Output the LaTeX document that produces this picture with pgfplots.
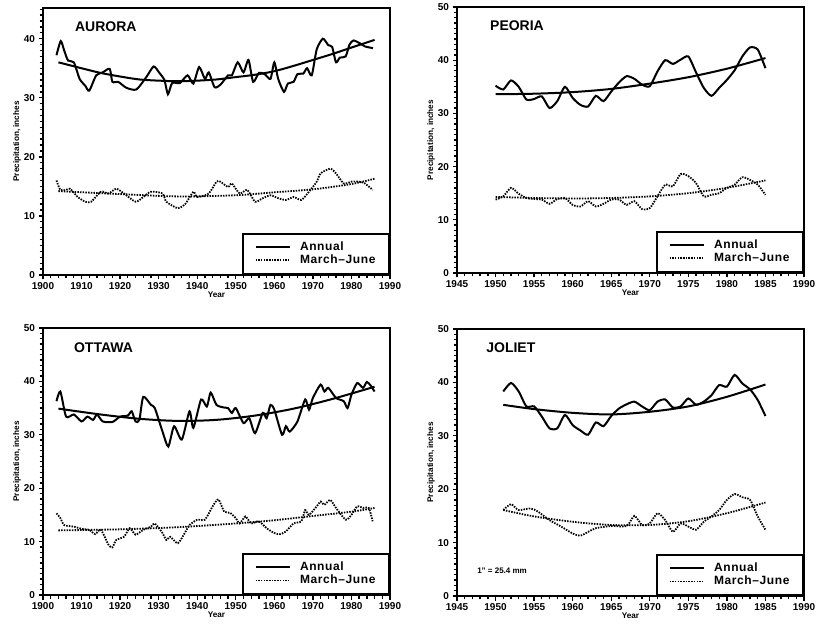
\documentclass[border=0pt]{standalone}
\usepackage{pgfplots}
\pgfplotsset{compat=1.18}
\usepackage{fontspec}
\setmainfont{Liberation Sans}
\tikzset{ttl/.style={anchor=west, inner sep=0pt, font=\fontsize{14}{14}\selectfont\bfseries}}
\pgfplotsset{
 panel/.style={scale only axis, width=347pt, height=267pt, anchor=south west,
  axis line style={line width=2pt},
  tick style={black, line width=1.3pt},
  major tick length=4.5pt, minor tick length=3.5pt,
  tick align=outside, xtick pos=left, ytick pos=left,
  ymin=0, ymax=50, ytick={0,10,...,50}, minor y tick num=9,
  /pgf/number format/assume math mode=true, /pgf/number format/1000 sep={},
  ticklabel style={font=\fontsize{10}{10}\selectfont\bfseries},
  xticklabel style={yshift=1pt},
  xlabel={Year}, ylabel={Precipitation, inches},
  label style={font=\fontsize{8.2}{9}\selectfont\bfseries},
  xlabel style={at={(axis description cs:0.5,-0.075)}, anchor=center},
  ylabel style={at={(axis description cs:-0.075,0.5)}, anchor=center},
  legend style={at={(1,0)}, anchor=south east, draw=black, line width=2pt, fill=white,
    inner xsep=12pt, inner ysep=7pt, column sep=8pt,
    font=\fontsize{12}{13}\selectfont\bfseries\addfontfeatures{LetterSpace=5},
    nodes={inner sep=1.5pt}},
  legend cell align=left,
  legend image code/.code={\draw[##1] (0pt,0pt) -- (34pt,0pt);},
 },
 annual/.style={black, line width=2pt, smooth, tension=0.4},
 mj/.style={black, line width=1.8pt, dash pattern=on 1.5pt off 1.2pt, smooth, tension=0.4},
 trendA/.style={black, line width=2pt, smooth},
 trendM/.style={black, line width=1.8pt, dash pattern=on 1.5pt off 1.2pt, smooth},
}
\begin{document}
\begin{tikzpicture}
\useasboundingbox (0,0) rectangle (816pt,626pt);
% ---------------- AURORA ----------------
\begin{axis}[panel, at={(43pt,351pt)}, xmin=1900, xmax=1990, xtick={1900,1910,...,1990}, minor x tick num=4, ymax=45.2]
\addplot[annual] coordinates {(1903.5,37.2)(1904.6,39.6)(1905.5,38.0)(1906.5,36.3)(1908,36.0)(1909.5,33.2)(1911,32.0)(1912,31.2)(1913.8,33.8)(1915.5,34.3)(1917.3,34.9)(1918,32.7)(1919.5,32.7)(1921.6,31.7)(1924.2,31.4)(1926.8,33.5)(1928.7,35.3)(1930.2,34.2)(1931.5,33.0)(1932.4,30.6)(1933.5,32.5)(1935.5,32.5)(1937.5,33.8)(1939,32.4)(1940.5,35.2)(1942,33.2)(1943,34.3)(1944.5,31.8)(1946,32.2)(1948,33.8)(1949,33.8)(1950.5,36.0)(1952,34.3)(1953.3,36.4)(1954.5,32.7)(1956,34.2)(1957.5,34.0)(1959,33.2)(1960,36.0)(1961,33.2)(1962.5,31.0)(1963.5,32.4)(1965,32.7)(1966,34.0)(1967.5,34.1)(1968.5,35.0)(1969.7,33.8)(1971,38.2)(1972.6,40.0)(1974,38.9)(1975,38.6)(1976,36.0)(1977,36.8)(1978.5,37.0)(1979.5,39.0)(1980.5,39.7)(1982,39.3)(1983.5,38.7)(1985.6,38.4)};
\addlegendentry{Annual}
\addplot[mj] coordinates {(1903.5,16.0)(1904.5,14.4)(1906,14.4)(1907,14.6)(1909,13.2)(1911,12.4)(1912.5,12.4)(1915,14.1)(1917,13.8)(1919,14.6)(1921,13.8)(1924,12.4)(1926,13.2)(1928,14.1)(1931,13.8)(1932,12.4)(1935,11.3)(1937,12.1)(1939,14.1)(1940,13.2)(1943,13.8)(1945,15.8)(1946,15.8)(1948,14.9)(1949,15.5)(1951,13.8)(1953,14.4)(1955,12.4)(1957,13.0)(1959,13.5)(1961,13.0)(1963,12.7)(1965,13.2)(1967,12.7)(1969,14.1)(1971,15.8)(1972,17.2)(1974.5,18.0)(1976,17.2)(1978,15.5)(1980,15.8)(1982,15.8)(1983.5,15.5)(1985.5,14.4)};
\addlegendentry{March--June}
\addplot[trendA, forget plot] coordinates {(1904,36.0)(1910,35.0)(1915,34.2)(1920,33.6)(1925,33.1)(1930,32.9)(1935,32.8)(1940,32.9)(1945,33.1)(1950,33.5)(1955,33.9)(1960,34.5)(1965,35.4)(1970,36.4)(1975,37.4)(1980,38.5)(1986,39.8)};
\addplot[trendM, forget plot] coordinates {(1904,14.2)(1920,13.7)(1935,13.3)(1950,13.5)(1960,14.0)(1970,14.5)(1980,15.4)(1986,16.3)};
\node[ttl] at (rel axis cs:0.092,0.929) {AURORA};
\end{axis}
% ---------------- PEORIA ----------------
\begin{axis}[panel, at={(457pt,353pt)}, height=266pt, xmin=1945, xmax=1990, xtick={1945,1950,...,1990}, minor x tick num=4]
\addplot[annual] coordinates {(1950,35.2)(1951,34.5)(1952,36.2)(1953,35.0)(1954,32.6)(1955,32.7)(1956,33.2)(1957,31.0)(1958,32.3)(1959,35.0)(1960,32.9)(1961,31.6)(1962,31.3)(1963,33.3)(1964,32.3)(1965,34.1)(1966,35.8)(1967,37.0)(1968,36.5)(1969,35.4)(1970,35.1)(1971,37.9)(1972,40.0)(1973,39.3)(1974,40.1)(1975,40.7)(1976,37.7)(1977,34.8)(1978,33.3)(1979,34.8)(1980,36.3)(1981,38.1)(1982,40.7)(1983,42.4)(1984,42.0)(1985,38.5)};
\addlegendentry{Annual}
\addplot[mj] coordinates {(1950,13.8)(1951,14.4)(1952,16.0)(1953,14.9)(1954,14.1)(1955,13.9)(1956,13.8)(1957,13.0)(1958,13.9)(1959,14.1)(1960,12.8)(1961,12.5)(1962,13.5)(1963,12.5)(1964,13.0)(1965,13.8)(1966,13.8)(1967,12.8)(1968,13.5)(1969,12.0)(1970,12.2)(1971,14.4)(1972,16.6)(1973,16.3)(1974,18.6)(1975,18.2)(1976,16.9)(1977,14.4)(1978,14.7)(1979,15.0)(1980,16.0)(1981,16.6)(1982,18.0)(1983,17.5)(1984,16.6)(1985,14.7)};
\addlegendentry{March--June}
\addplot[trendA, forget plot] coordinates {(1950,33.6)(1955,33.7)(1960,34.0)(1965,34.6)(1970,35.6)(1975,36.8)(1980,38.4)(1985,40.4)};
\addplot[trendM, forget plot] coordinates {(1950,14.3)(1955,14.1)(1960,14.0)(1965,14.1)(1970,14.4)(1975,15.0)(1980,16.0)(1985,17.4)};
\node[ttl] at (rel axis cs:0.095,0.929) {PEORIA};
\end{axis}
% ---------------- OTTAWA ----------------
\begin{axis}[panel, at={(43pt,31pt)}, xmin=1900, xmax=1990, xtick={1900,1910,...,1990}, minor x tick num=4]
\addplot[annual] coordinates {(1903.5,36.3)(1904.5,38.1)(1906,33.4)(1908,33.8)(1910,32.5)(1911.5,33.4)(1913,32.8)(1914,33.8)(1915.5,32.5)(1918,32.4)(1920,33.4)(1922,33.6)(1923,34.4)(1924,32.5)(1925,32.8)(1926,37.1)(1928,35.6)(1929,35.0)(1931,30.6)(1932.5,27.8)(1934,31.6)(1936,29.1)(1938,34.4)(1939,31.3)(1941,36.6)(1942.5,35.3)(1943.5,37.9)(1945,35.6)(1947,35.1)(1948,35.0)(1949,34.1)(1950,35.0)(1952,32.2)(1953.5,33.1)(1955,30.3)(1957,34.1)(1958,33.1)(1959,35.6)(1960,34.7)(1962,30.0)(1963,31.6)(1964,30.6)(1966,32.5)(1968,36.6)(1969,34.7)(1970,36.9)(1972,39.4)(1973,38.1)(1974,38.8)(1976,36.9)(1978,36.3)(1979,35.0)(1980,37.5)(1981.5,39.7)(1983,38.8)(1984,39.9)(1985,39.2)(1986,38.1)};
\addlegendentry{Annual}
\addplot[mj] coordinates {(1903.5,15.3)(1904.5,14.4)(1905.5,13.1)(1908,12.8)(1910,12.4)(1912,12.2)(1913.5,11.4)(1915,12.2)(1917,9.4)(1918,8.9)(1919,10.3)(1921,10.9)(1922.5,12.5)(1924,11.3)(1926,12.2)(1928,12.8)(1929,13.4)(1931,11.6)(1932,10.3)(1933,10.9)(1935,9.7)(1937,11.9)(1938,13.1)(1940,14.1)(1942,14.1)(1944,16.6)(1945.5,17.9)(1947,15.6)(1948.5,15.4)(1950,14.4)(1951,13.4)(1952.5,14.7)(1954,13.4)(1956,13.8)(1958,12.5)(1960,11.6)(1961.5,11.4)(1963,11.9)(1965,13.4)(1967,13.8)(1968,15.9)(1969,15.0)(1971,16.6)(1972,17.5)(1973,16.9)(1974.5,17.8)(1976,16.3)(1978.5,14.1)(1980,15.0)(1981.5,16.6)(1983,16.3)(1984.5,16.3)(1985.5,13.8)};
\addlegendentry{March--June}
\addplot[trendA, forget plot] coordinates {(1904,34.9)(1915,33.8)(1925,33.0)(1935,32.6)(1945,32.8)(1955,33.6)(1965,34.9)(1975,36.7)(1986,39.0)};
\addplot[trendM, forget plot] coordinates {(1904,12.1)(1920,12.3)(1935,12.7)(1950,13.4)(1960,14.0)(1970,14.8)(1980,15.6)(1986,16.3)};
\node[ttl] at (rel axis cs:0.089,0.925) {OTTAWA};
\end{axis}
% ---------------- JOLIET ----------------
\begin{axis}[panel, at={(457pt,30pt)}, xmin=1945, xmax=1990, xtick={1945,1950,...,1990}, minor x tick num=4]
\addplot[annual] coordinates {(1951,38.3)(1952,39.9)(1953,38.3)(1954,35.5)(1955,35.5)(1956,33.6)(1957,31.4)(1958,31.4)(1959,33.9)(1960,32.0)(1961,31.0)(1962,30.2)(1963,32.5)(1964,31.8)(1965,33.7)(1966,35.1)(1967,35.9)(1968,36.4)(1969,35.5)(1970,34.8)(1971,36.4)(1972,36.8)(1973,35.3)(1974,35.5)(1975,37.0)(1976,35.8)(1977,36.4)(1978,37.6)(1979,39.5)(1980,39.2)(1981,41.4)(1982,39.8)(1983,38.7)(1984,36.7)(1985,33.7)};
\addlegendentry{Annual}
\addplot[mj] coordinates {(1951,16.1)(1952,17.2)(1953,16.1)(1954.5,16.4)(1955.5,15.8)(1957,14.2)(1958.5,13.0)(1960,11.7)(1961,11.3)(1962,12.0)(1963,12.7)(1965,13.1)(1967,13.1)(1968,15.0)(1969,13.3)(1970,13.6)(1971,15.5)(1972,14.2)(1973,12.0)(1974,13.6)(1975,13.0)(1976,12.4)(1977,13.9)(1978,14.9)(1979,16.1)(1980,18.0)(1981,19.1)(1982,18.5)(1983,18.0)(1984,14.9)(1985,12.4)};
\addlegendentry{March--June}
\addplot[trendA, forget plot] coordinates {(1951,35.8)(1955,35.0)(1960,34.3)(1965,34.0)(1970,34.5)(1975,35.5)(1980,37.3)(1985,39.6)};
\addplot[trendM, forget plot] coordinates {(1951,16.1)(1955,14.9)(1960,13.9)(1965,13.3)(1970,13.3)(1975,14.0)(1980,15.5)(1985,17.5)};
\node[ttl] at (rel axis cs:0.084,0.929) {JOLIET};
\node[anchor=west, inner sep=0pt, font=\fontsize{8}{8}\selectfont\bfseries] at (axis cs:1947.6,4.7) {1" = 25.4 mm};
\end{axis}
\end{tikzpicture}
\end{document}
